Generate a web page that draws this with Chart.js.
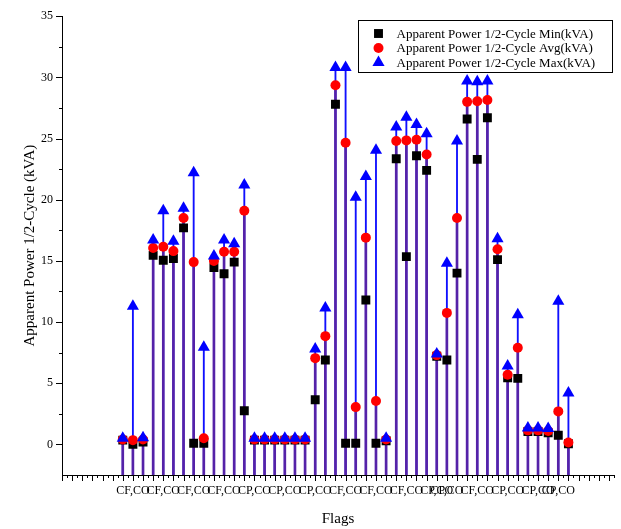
<!DOCTYPE html>
<html>
<head>
<meta charset="utf-8">
<script src="https://cdn.jsdelivr.net/npm/chart.js@4.4.1/dist/chart.umd.min.js"></script>
<style>
  html, body { margin: 0; padding: 0; background: #fff; }
</style>
</head>
<body>
<canvas id="flags" width="621" height="529"></canvas>
<script>
// half-cycle apparent power per record (kVA)
const minVals = [0.35, 0.0, 0.2, 15.45, 15.05, 15.2, 17.7, 0.1, 0.1, 14.45, 13.95, 14.9, 2.75,
  0.35, 0.35, 0.35, 0.35, 0.35, 0.35, 3.65, 6.9, 27.8, 0.1, 0.1, 11.8, 0.1, 0.3,
  23.35, 15.35, 23.6, 22.4, 7.2, 6.9, 14.0, 26.6, 23.3, 26.7, 15.1, 5.45, 5.4,
  1.05, 1.05, 0.95, 0.75, 0.05];
const avgVals = [0.4, 0.35, 0.4, 16.05, 16.15, 15.8, 18.5, 14.9, 0.5, 15.0, 15.75, 15.75, 19.1,
  0.4, 0.4, 0.4, 0.4, 0.4, 0.4, 7.05, 8.85, 29.35, 24.65, 3.05, 16.9, 3.55, 0.4,
  24.8, 24.85, 24.9, 23.7, 7.3, 10.75, 18.5, 28.0, 28.05, 28.15, 15.95, 5.7, 7.9,
  1.15, 1.15, 1.1, 2.7, 0.15];
const maxVals = [0.5, 11.3, 0.55, 16.7, 19.1, 16.6, 19.3, 22.2, 7.95, 15.4, 16.7, 16.4, 21.2,
  0.5, 0.5, 0.5, 0.5, 0.5, 0.5, 7.8, 11.15, 30.8, 30.8, 20.2, 21.9, 24.05, 0.5,
  25.95, 26.75, 26.15, 25.4, 7.4, 14.8, 24.8, 29.7, 29.65, 29.7, 16.8, 6.4, 10.6,
  1.35, 1.35, 1.3, 11.7, 4.2];

// flag text shown under the record axis
const flagAt = [1, 4, 7, 10, 13, 16, 19, 22, 25, 28, 31, 32, 35, 38, 41, 43];
const flagText = ['CF,CO', 'CF,CO', 'CF,CO', 'CF,CO', 'CP,CO', 'CP,CO', 'CP,CO', 'CF,CO',
  'CF,CO', 'CF,CO', 'CP,CO', 'CP,CO', 'CF,CO', 'CP,CO', 'CP,CO', 'CP,CO'];

const seriesNames = [
  'Apparent Power 1/2-Cycle Min(kVA)',
  'Apparent Power 1/2-Cycle Avg(kVA)',
  'Apparent Power 1/2-Cycle Max(kVA)'
];

const X_MIN = -6, X_MAX = 48.5;
const Y_MIN = -2.5, Y_MAX = 35;

const pts = (vals) => vals.map((v, i) => ({ x: i, y: v }));

Chart.defaults.font.family = '"Liberation Serif", "Times New Roman", serif';
Chart.defaults.color = '#000';

// outward major/minor tick marks on both axes
const tickMarks = {
  id: 'tickMarks',
  afterDraw(chart) {
    const { ctx } = chart;
    const xs = chart.scales.x, ys = chart.scales.y;
    const axisY = Math.round(xs.top);
    ctx.save();
    ctx.fillStyle = '#000';
    for (let n = 0; n <= (X_MAX - X_MIN) * 2; n++) {
      const px = Math.round(xs.getPixelForValue(X_MIN + n / 2));
      const len = n % 2 === 0 ? 6 : 3;
      ctx.fillRect(px, axisY, 1, len);
    }
    for (let n = 0; n <= Y_MAX / 2.5; n++) {
      const py = Math.round(ys.getPixelForValue(n * 2.5));
      const len = n % 2 === 0 ? 6 : 3;
      ctx.fillRect(ys.right - len, py, len, 1);
    }
    ctx.restore();
  }
};

// framed legend sitting inside the plot, top right
const legendBox = {
  id: 'legendBox',
  afterDraw(chart) {
    const { ctx } = chart;
    const bx = 358.5, by = 20.5, bw = 254, bh = 52;
    ctx.save();
    ctx.fillStyle = '#fff';
    ctx.fillRect(bx, by, bw, bh);
    ctx.strokeStyle = '#000';
    ctx.lineWidth = 1;
    ctx.strokeRect(bx, by, bw, bh);
    ctx.font = '13px "Liberation Serif", serif';
    ctx.textBaseline = 'middle';
    const marks = chart.data.datasets.filter(d => d.legend);
    marks.sort((a, b) => a.legend - b.legend).forEach((ds, i) => {
      const y = by + 13 + i * 14.5;
      ctx.fillStyle = ds.backgroundColor;
      ctx.strokeStyle = ds.borderColor;
      Chart.helpers.drawPoint(ctx, { pointStyle: ds.pointStyle, radius: ds.pointRadius, borderWidth: 0, rotation: 0 }, bx + 20, y);
      ctx.fillStyle = '#000';
      ctx.fillText(ds.label, bx + 38, y + 1);
    });
    ctx.restore();
  }
};

new Chart(document.getElementById('flags'), {
  type: 'scatter',
  data: {
    datasets: [
      {
        label: seriesNames[2], legend: 3, data: pts(maxVals), order: 0,
        pointStyle: 'triangle', pointRadius: 7, backgroundColor: '#0000ff', borderColor: '#0000ff', borderWidth: 0
      },
      {
        label: seriesNames[1], legend: 2, data: pts(avgVals), order: 1,
        pointStyle: 'circle', pointRadius: 5, backgroundColor: '#ff0000', borderColor: '#ff0000', borderWidth: 0
      },
      {
        label: seriesNames[0], legend: 1, data: pts(minVals), order: 2,
        pointStyle: 'rect', pointRadius: 6.3, backgroundColor: '#000000', borderColor: '#000000', borderWidth: 0
      },
      // drop lines down to the record axis
      {
        type: 'bar', label: 'avg drop', data: pts(avgVals), order: 3, base: Y_MIN,
        backgroundColor: '#5522a8', barThickness: 2, grouped: false
      },
      {
        type: 'bar', label: 'max drop', data: pts(maxVals), order: 4, base: Y_MIN,
        backgroundColor: '#1010ff', barThickness: 1.2, grouped: false
      }
    ]
  },
  options: {
    responsive: false,
    devicePixelRatio: 1,
    animation: false,
    layout: { padding: { top: 16, right: 3, left: 0, bottom: 0 } },
    plugins: { legend: { display: false }, tooltip: { enabled: false } },
    scales: {
      x: {
        type: 'linear',
        min: X_MIN,
        max: X_MAX,
        offset: false,
        afterFit: (s) => { s.height = 54; },
        afterBuildTicks: (s) => {
          s.ticks = flagAt.map(v => ({ value: v }));
        },
        ticks: {
          autoSkip: false,
          maxRotation: 0,
          padding: 9,
          font: { size: 12 },
          callback: (v) => {
            const i = flagAt.indexOf(v);
            return i < 0 ? '' : flagText[i];
          }
        },
        grid: { drawOnChartArea: false, drawTicks: false, offset: false },
        border: { color: '#000', width: 1 },
        title: { display: true, text: 'Flags', font: { size: 15 }, padding: { top: 0, bottom: 1 } }
      },
      y: {
        min: Y_MIN,
        max: Y_MAX,
        afterFit: (s) => { s.width = 62; },
        afterBuildTicks: (s) => {
          s.ticks = [0, 5, 10, 15, 20, 25, 30, 35].map(v => ({ value: v }));
        },
        ticks: { padding: 9, font: { size: 12 } },
        grid: { drawOnChartArea: false, drawTicks: false },
        border: { color: '#000', width: 1 },
        title: {
          display: true, text: 'Apparent Power 1/2-Cycle (kVA)',
          font: { size: 15 }, padding: { top: 21, bottom: 0 }
        }
      }
    }
  },
  plugins: [tickMarks, legendBox]
});
</script>
</body>
</html>
